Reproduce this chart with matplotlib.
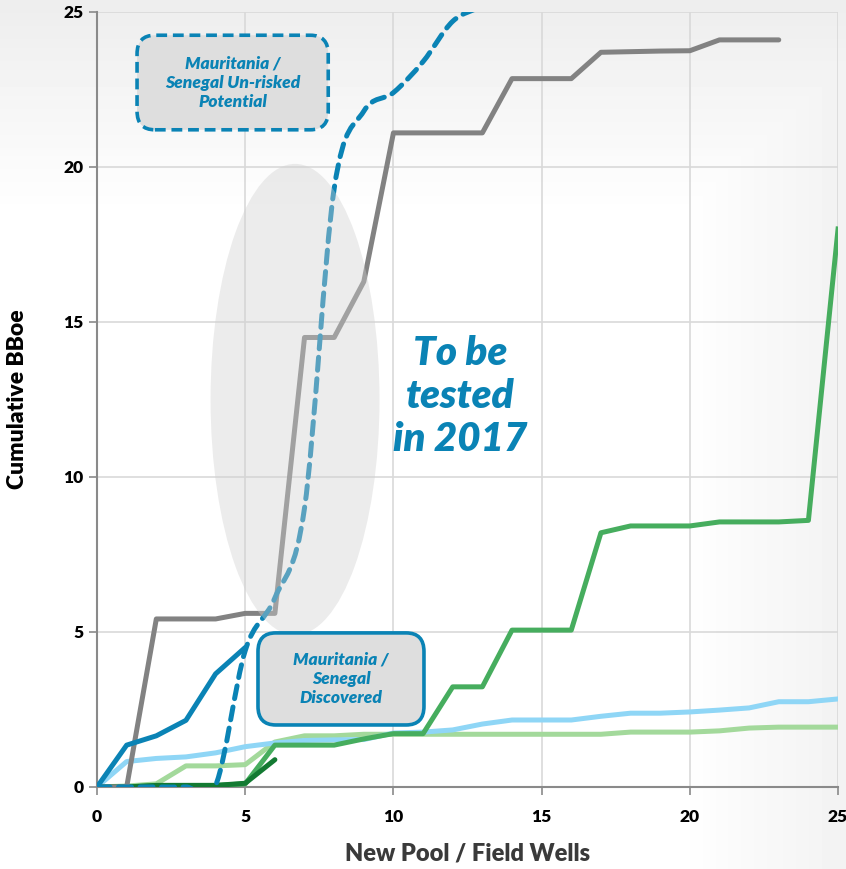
import numpy as np
import matplotlib
matplotlib.use("Agg")
import matplotlib.pyplot as plt
from matplotlib.patches import Ellipse, FancyBboxPatch, PathPatch
from matplotlib.path import Path

# Data
wells = list(range(0, 26))

gray_x = list(range(0, 24))
gray_y = [0, 0, 5.42, 5.42, 5.42, 5.6, 5.6, 14.5, 14.5, 16.3, 21.1, 21.1,
          21.1, 21.1, 22.85, 22.85, 22.85, 23.7, 23.72, 23.74, 23.75, 24.1,
          24.1, 24.1]

blue_x = [0, 1, 2, 3, 4, 5]
blue_y = [0, 1.35, 1.65, 2.15, 3.65, 4.5]

dash_x = [0, 1, 2, 3, 4, 5, 6, 7, 8, 9, 10, 11, 12, 13, 14]
dash_y = [0, 0, 0, 0, 0.05, 4.4, 6.1, 9.0, 19.3, 21.8, 22.4, 23.4, 24.7,
          25.2, 25.8]

green_y = [0, 0, 0.05, 0.05, 0.05, 0.1, 1.35, 1.35, 1.35, 1.55, 1.72, 1.72,
           3.23, 3.23, 5.06, 5.06, 5.06, 8.2, 8.42, 8.42, 8.42, 8.55, 8.55,
           8.55, 8.6, 18.0]

dkgreen_x = [0, 1, 2, 3, 4, 5, 6]
dkgreen_y = [0, 0, 0.05, 0.05, 0.05, 0.12, 0.88]

ltblue_y = [0, 0.82, 0.92, 0.97, 1.1, 1.3, 1.42, 1.5, 1.52, 1.53, 1.74, 1.77,
            1.84, 2.03, 2.16, 2.16, 2.16, 2.28, 2.38, 2.38, 2.42, 2.48, 2.55,
            2.75, 2.75, 2.84]

ltgreen_y = [0, 0.03, 0.1, 0.68, 0.68, 0.72, 1.45, 1.65, 1.65, 1.7, 1.7, 1.7,
             1.7, 1.7, 1.7, 1.7, 1.7, 1.7, 1.77, 1.77, 1.77, 1.81, 1.9, 1.93,
             1.93, 1.93]

BLUE = "#0a83b5"
plt.rcParams['font.family'] = ['Lato', 'DejaVu Sans']

fig = plt.figure(figsize=(8.46, 8.69), dpi=100)

# soft grey background wash (top and right edges)
bg = fig.add_axes([0, 0, 1, 1], zorder=-5)
gx, gy = np.meshgrid(np.linspace(0, 1, 200), np.linspace(0, 1, 200))
shade = np.maximum(np.clip((gy - 0.75) / 0.25, 0, 1) * 0.07,
                   np.clip((gx - 0.8) / 0.2, 0, 1) * 0.05)
bg.imshow(1 - shade, cmap='gray', vmin=0, vmax=1, origin='lower',
          extent=[0, 1, 0, 1], aspect='auto')
bg.axis('off')

ax = fig.add_axes([0.1147, 0.0944, 0.8759, 0.8918])
ax.set_facecolor('none')

lw = 3.6
ax.plot(wells, ltgreen_y, color='#a3d99b', lw=lw, zorder=3)
ax.plot(wells, ltblue_y, color='#8fd6f6', lw=lw, zorder=3)
ax.plot(wells, green_y, color='#46ad5e', lw=lw, zorder=4)
ax.plot(dkgreen_x, dkgreen_y, color='#137a32', lw=lw, zorder=4,
        solid_capstyle='round')
ax.plot(gray_x, gray_y, color='#828282', lw=lw, zorder=5,
        solid_capstyle='round')
ax.plot(blue_x, blue_y, color=BLUE, lw=lw, zorder=5, solid_capstyle='round')

# smoothed dashed series (bezier through the points, Excel style)
pts = np.column_stack([dash_x, dash_y])
verts = [pts[0]]
codes = [Path.MOVETO]
for i in range(len(pts) - 1):
    p0 = pts[max(i - 1, 0)]
    p1 = pts[i]
    p2 = pts[i + 1]
    p3 = pts[min(i + 2, len(pts) - 1)]
    verts += [p1 + (p2 - p0) / 6, p2 - (p3 - p1) / 6, p2]
    codes += [Path.CURVE4] * 3
ax.add_patch(PathPatch(Path(verts, codes), fill=False, edgecolor=BLUE,
                       lw=lw, linestyle=(0, (2.6, 1.7)), capstyle='round',
                       zorder=5))

# translucent ellipse over the lines
ax.add_patch(Ellipse((6.68, 12.5), 5.7, 15.2, facecolor='#d0d0d0',
                     edgecolor='none', alpha=0.4, zorder=6))

ax.text(12.25, 12.6, "To be\ntested\nin 2017", color=BLUE, fontsize=29,
        fontweight='heavy', fontstyle='italic', ha='center', va='center',
        linespacing=1.2, zorder=7)

ax.add_patch(FancyBboxPatch((1.35, 21.2), 6.45, 3.05,
                            boxstyle="round,pad=0,rounding_size=0.6",
                            facecolor='#dedede', edgecolor=BLUE, lw=2.6,
                            linestyle=(0, (3, 1.6)), zorder=7))
ax.text(4.57, 22.72, "Mauritania /\nSenegal Un-risked\nPotential", color=BLUE,
        fontsize=12.5, fontweight='heavy', fontstyle='italic', ha='center',
        va='center', linespacing=1.25, zorder=8)

ax.add_patch(FancyBboxPatch((5.43, 2.0), 5.6, 2.97,
                            boxstyle="round,pad=0,rounding_size=0.6",
                            facecolor='#dedede', edgecolor=BLUE, lw=2.6,
                            zorder=7))
ax.text(8.23, 3.48, "Mauritania /\nSenegal\nDiscovered", color=BLUE,
        fontsize=12.5, fontweight='heavy', fontstyle='italic', ha='center',
        va='center', linespacing=1.25, zorder=8)

ax.set_xlim(0, 25)
ax.set_ylim(0, 25)
ax.set_xticks(range(0, 26, 5))
ax.set_yticks(range(0, 26, 5))
ax.grid(True, color='#d9d9d9', lw=1.2, zorder=0)
ax.set_axisbelow(True)
for s in ['top', 'right']:
    ax.spines[s].set_visible(False)
for s in ['left', 'bottom']:
    ax.spines[s].set_color('#8a8a8a')
    ax.spines[s].set_linewidth(1.5)
ax.tick_params(axis='both', colors='#8a8a8a', length=6, width=1.2,
               labelcolor='black', labelsize=12.5)
ax.tick_params(axis='x', pad=10)
for lab in ax.get_xticklabels() + ax.get_yticklabels():
    lab.set_fontweight('heavy')

ax.set_xlabel("New Pool / Field Wells", fontsize=17, fontweight='heavy',
              color='#3a3a3a')
ax.xaxis.set_label_coords(0.5, -0.072)
ax.set_ylabel("Cumulative BBoe", fontsize=16.5, fontweight='heavy',
              color='black')
ax.yaxis.set_label_coords(-0.093, 0.5)

fig.savefig("out.png", dpi=100)
